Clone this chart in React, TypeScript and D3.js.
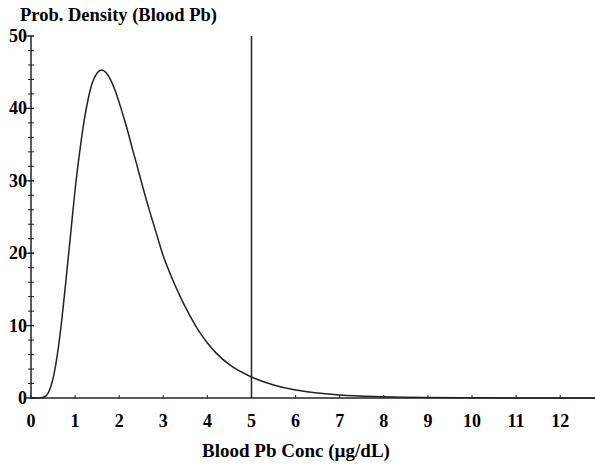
import React, { useEffect, useRef } from 'react';
import * as d3 from 'd3';

// blood Pb concentration (µg/dL) and the density
const concValues = [0, 0.1, 0.2, 0.3, 0.4, 0.5, 0.6, 0.7, 0.8, 0.9, 1.0, 1.1, 1.2, 1.3, 1.4, 1.5, 1.6, 1.7, 1.8, 1.9, 2.0, 2.1, 2.2, 2.3, 2.4, 2.5, 2.6, 2.7, 2.8, 3.0, 3.2, 3.4, 3.6, 3.8, 4.0, 4.2, 4.5, 5.0, 5.5, 6, 6.5, 7, 8, 9, 10, 11, 12, 12.8];
const densityValues = [0, 0, 0.01, 0.13, 0.8, 2.7, 6.1, 10.9, 16.7, 22.7, 28.8, 33.8, 38.1, 41.4, 43.7, 44.9, 45.3, 44.95, 44.0, 42.6, 40.8, 38.8, 36.7, 34.4, 32.2, 29.9, 27.7, 25.6, 23.6, 19.6, 16.5, 13.8, 11.4, 9.3, 7.6, 6.2, 4.6, 2.9, 1.8, 1.1, 0.7, 0.42, 0.18, 0.07, 0.03, 0.01, 0.005, 0];
const xTicks = [0, 1, 2, 3, 4, 5, 6, 7, 8, 9, 10, 11, 12];
const yTicks = [0, 10, 20, 30, 40, 50];
const yMinorTicks = d3.range(0, 51, 2);
const cutoff = 5;

const FONT = '"Liberation Serif", "Times New Roman", serif';

const App = () => {
  const ref = useRef<SVGSVGElement>(null);

  useEffect(() => {
    const svg = d3.select(ref.current);
    svg.selectAll('*').remove();

    const left = 31, top = 36, bottom = 398, right = 595;
    const unit = 44.1; // px per µg/dL

    const x = d3.scaleLinear().domain([0, (right - left) / unit]).range([left, right]);
    const y = d3.scaleLinear().domain([0, 50]).range([bottom, top]);

    const g = svg.append('g');

    // y axis ticks
    g.selectAll('.ytick-minor')
      .data(yMinorTicks)
      .enter().append('line')
      .attr('x1', left - 3).attr('x2', left + 3)
      .attr('y1', d => y(d)).attr('y2', d => y(d))
      .attr('stroke', '#222').attr('stroke-width', 1);

    g.selectAll('.ytick-major')
      .data(yTicks)
      .enter().append('line')
      .attr('x1', left - 5).attr('x2', left + 3)
      .attr('y1', d => y(d)).attr('y2', d => y(d))
      .attr('stroke', '#222').attr('stroke-width', 1.2);

    g.selectAll('.ylabel')
      .data(yTicks)
      .enter().append('text')
      .attr('x', left - 4)
      .attr('y', d => y(d) + 6)
      .attr('text-anchor', 'end')
      .attr('font-family', FONT).attr('font-weight', 'bold').attr('font-size', 18)
      .text(d => d);

    // x ticks
    g.selectAll('.xtick')
      .data(xTicks)
      .enter().append('line')
      .attr('x1', d => x(d)).attr('x2', d => x(d))
      .attr('y1', bottom).attr('y2', bottom - 3)
      .attr('stroke', '#222').attr('stroke-width', 1);

    g.selectAll('.xlabel')
      .data(xTicks)
      .enter().append('text')
      .attr('x', d => x(d))
      .attr('y', 427)
      .attr('text-anchor', 'middle')
      .attr('font-family', FONT).attr('font-weight', 'bold').attr('font-size', 18)
      .text(d => d);

    // axis lines
    g.append('line')
      .attr('x1', left).attr('x2', left).attr('y1', top).attr('y2', bottom)
      .attr('stroke', '#222').attr('stroke-width', 1.5);
    g.append('line')
      .attr('x1', left).attr('x2', right).attr('y1', bottom).attr('y2', bottom)
      .attr('stroke', '#222').attr('stroke-width', 1.5);

    // cutoff line at 5 µg/dL
    g.append('line')
      .attr('x1', x(cutoff)).attr('x2', x(cutoff))
      .attr('y1', y(50)).attr('y2', bottom)
      .attr('stroke', '#222').attr('stroke-width', 1.5);

    const pts = concValues.map((c, i) => [c, densityValues[i]] as [number, number]);
    const line = d3.line<[number, number]>()
      .x(d => x(d[0]))
      .y(d => y(d[1]))
      .curve(d3.curveMonotoneX);

    g.append('path')
      .datum(pts)
      .attr('d', line)
      .attr('fill', 'none')
      .attr('stroke', '#222')
      .attr('stroke-width', 1.5);

    // titles
    svg.append('text')
      .attr('x', 20).attr('y', 21)
      .attr('font-family', FONT).attr('font-weight', 'bold').attr('font-size', 18.5)
      .text('Prob. Density (Blood Pb)');

    svg.append('text')
      .attr('x', 296).attr('y', 457)
      .attr('text-anchor', 'middle')
      .attr('font-family', FONT).attr('font-weight', 'bold').attr('font-size', 19)
      .text('Blood Pb Conc (\u00b5g/dL)');
  }, []);

  return (
    <svg ref={ref} width={595} height={465}
      style={{ position: 'absolute', left: 0, top: 0, background: '#fff' }} />
  );
};

export default App;
